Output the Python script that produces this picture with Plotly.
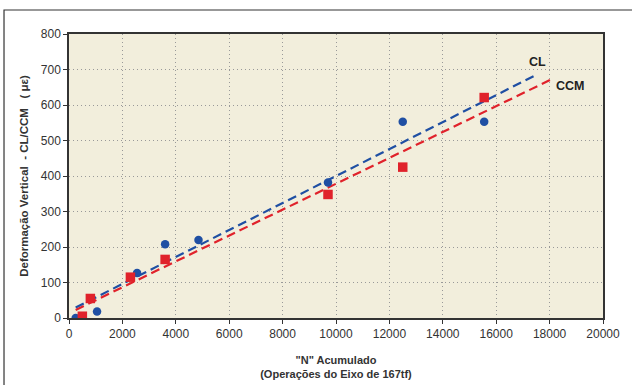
import numpy as np
import plotly.graph_objects as go

# Data
cl_x = [250, 1050, 2550, 3600, 4850, 9700, 12500, 15550]
cl_y = [0, 18, 127, 208, 220, 382, 553, 553]
ccm_x = [500, 800, 2300, 3600, 9700, 12500, 15550]
ccm_y = [5, 55, 115, 165, 348, 425, 621]
cl_trend_range = [250, 17450]
ccm_trend_range = [250, 18150]
x_ticks = list(range(0, 20001, 2000))
y_ticks = list(range(0, 801, 100))

BLUE = "#1f4fa3"
RED = "#e0222b"
FONT = "Liberation Sans, Arial, sans-serif"

def trend(xs, ys, rng):
    m, b = np.polyfit(xs, ys, 1)
    tx = np.array(rng, dtype=float)
    return tx, m * tx + b

fig = go.Figure()
tx, ty = trend(cl_x, cl_y, cl_trend_range)
fig.add_trace(go.Scatter(x=tx, y=ty, mode="lines",
                         line=dict(color=BLUE, width=2.2, dash="9px,5px"), showlegend=False))
tx, ty = trend(ccm_x, ccm_y, ccm_trend_range)
fig.add_trace(go.Scatter(x=tx, y=ty, mode="lines",
                         line=dict(color=RED, width=2.2, dash="9px,5px"), showlegend=False))
fig.add_trace(go.Scatter(x=cl_x, y=cl_y, mode="markers",
                         marker=dict(color=BLUE, size=8.5, symbol="circle"), showlegend=False))
fig.add_trace(go.Scatter(x=ccm_x, y=ccm_y, mode="markers",
                         marker=dict(color=RED, size=9.5, symbol="square"), showlegend=False))

fig.add_annotation(x=17550, y=722, text="<b>CL</b>", showarrow=False,
                   font=dict(family=FONT, size=12.5, color="#222"))
fig.add_annotation(x=18780, y=653, text="<b>CCM</b>", showarrow=False,
                   font=dict(family=FONT, size=12.5, color="#222"))

# outer frame
fig.add_shape(type="rect", xref="paper", yref="paper",
              x0=-0.1217, x1=1.08, y0=-0.27, y1=1.0845,
              line=dict(color="#333", width=1.2), layer="below")

axis_common = dict(showgrid=True, gridcolor="#999", griddash="1px,3px", gridwidth=1,
                   showline=True, linecolor="#333", linewidth=1.5, mirror=True,
                   ticks="outside", ticklen=4, tickcolor="#333", zeroline=False,
                   automargin=False,
                   tickfont=dict(family=FONT, size=12, color="#333"))

fig.update_xaxes(range=[0, 20000], tickvals=x_ticks, tickformat="d", **axis_common,
                 title=dict(text='<b>"N" Acumulado</b><br><b>(Operações do Eixo de 167tf)</b>',
                            font=dict(family=FONT, size=11, color="#333"), standoff=16))
fig.update_yaxes(range=[0, 800], tickvals=y_ticks, tickformat="d", **axis_common,
                 title=dict(text="<b>Deformação Vertical\u00a0 - CL/CCM\u00a0\u00a0 ( με)</b>",
                            font=dict(family=FONT, size=11.5, color="#333"), standoff=10))

fig.update_layout(width=632, height=385,
                  margin=dict(l=69, r=29, t=34, b=67),
                  plot_bgcolor="#f2eedc", paper_bgcolor="white",
                  font=dict(family=FONT))

fig.write_html("out.html")
